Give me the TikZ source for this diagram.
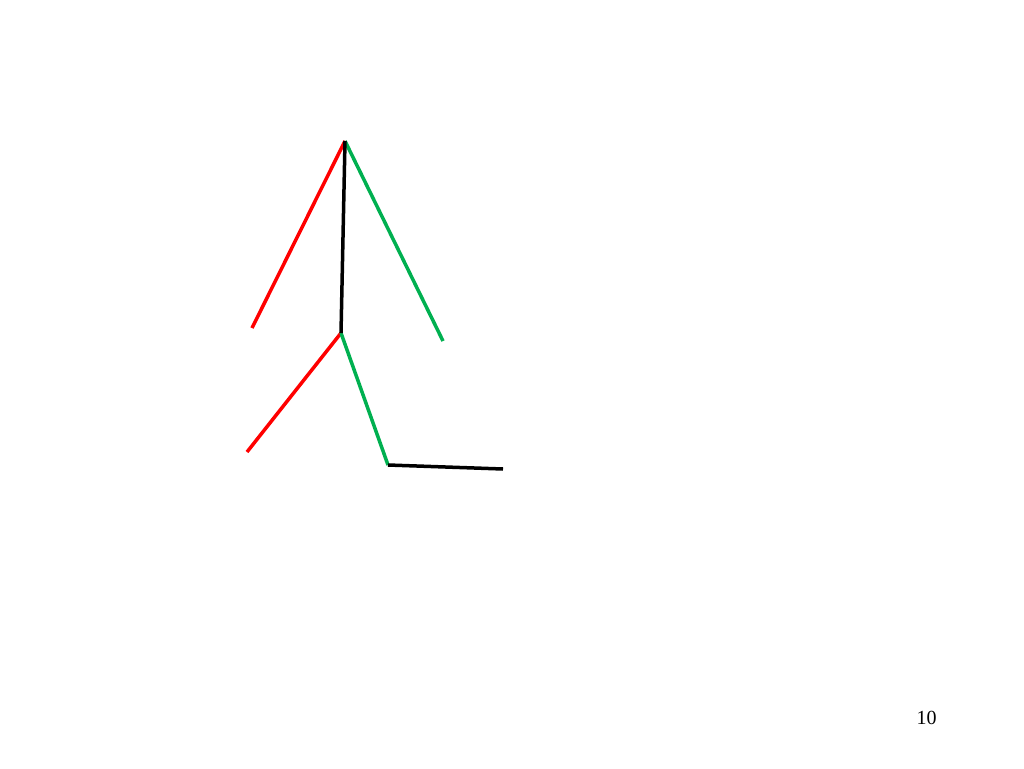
\documentclass[tikz,border=0pt]{standalone}
\usepackage{fontspec}
\setmainfont{Liberation Serif}
\definecolor{limbred}{HTML}{FF0000}
\definecolor{limbgreen}{HTML}{00B050}
\begin{document}
\begin{tikzpicture}[x=1pt,y=-1pt,
  limb/.style={line width=3.5pt,line cap=butt},
  redlimb/.style={limb,draw=limbred},
  greenlimb/.style={limb,draw=limbgreen},
  blacklimb/.style={limb,draw=black}]
\useasboundingbox[fill=white] (0,0) rectangle (1024,768);
\coordinate (neck) at (345,141);
\coordinate (rarm) at (252,328);
\coordinate (garm) at (443,341);
\coordinate (hip) at (341,333);
\coordinate (rleg) at (247,452);
\coordinate (knee) at (388,465);
\coordinate (foot) at (503,469);
\draw[redlimb] (neck) -- (rarm);
\draw[greenlimb] (neck) -- (garm);
\draw[redlimb] (hip) -- (rleg);
\draw[greenlimb] (hip) -- (knee);
\draw[blacklimb] (neck) -- (hip);
\draw[blacklimb] (knee) -- (foot);
\node[font=\fontsize{20}{23}\selectfont,inner sep=0pt] (pagenum) at (926.5,718) {10};
\end{tikzpicture}
\end{document}
